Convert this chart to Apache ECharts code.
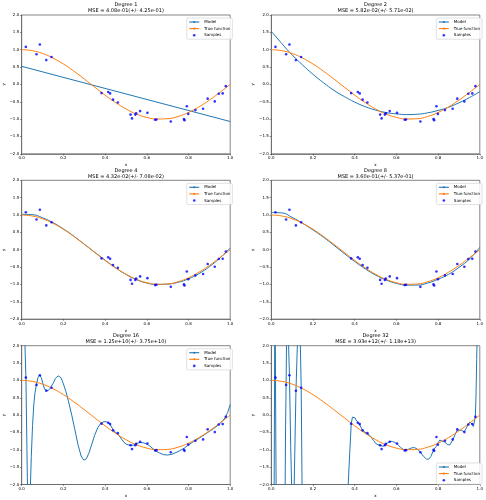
<!DOCTYPE html>
<html><head><meta charset="utf-8">
<script src="https://cdn.jsdelivr.net/npm/echarts/dist/echarts.min.js"></script>
<style>html,body{margin:0;padding:0;background:#fff}#c{width:486px;height:500px}</style>
</head><body><div id="c"></div>
<script>
// ---- data ----
const degrees = [1, 2, 4, 8, 16, 32];
const mseLabels = [
  'MSE = 4.08e-01(+/- 4.25e-01)',
  'MSE = 5.82e-02(+/- 5.71e-02)',
  'MSE = 4.32e-02(+/- 7.08e-02)',
  'MSE = 3.60e-01(+/- 5.37e-01)',
  'MSE = 1.25e+10(+/- 3.75e+10)',
  'MSE = 3.93e+12(+/- 1.18e+13)'
];
const legendNames = ['Model', 'True function', 'Samples'];

const sampleX = [0.020, 0.071, 0.087, 0.118, 0.143, 0.383, 0.415, 0.424, 0.438, 0.461,
  0.522, 0.529, 0.545, 0.549, 0.568, 0.603, 0.640, 0.646, 0.715, 0.778,
  0.781, 0.792, 0.799, 0.833, 0.870, 0.892, 0.926, 0.945, 0.964, 0.979];
const sampleY = [1.08, 0.87, 1.15, 0.70, 0.79, -0.25, -0.22, -0.26, -0.44, -0.52,
  -0.87, -0.98, -0.87, -0.83, -0.77, -0.82, -1.02, -1.01, -1.07, -1.00,
  -1.03, -0.63, -0.85, -0.74, -0.70, -0.41, -0.49, -0.27, -0.26, -0.05];

const gridX = [0, 0.05, 0.10, 0.15, 0.20, 0.25, 0.30, 0.35, 0.40, 0.45, 0.50,
  0.55, 0.60, 0.65, 0.70, 0.75, 0.80, 0.85, 0.90, 0.95, 1.00];
const trueY = [1.000, 0.972, 0.891, 0.760, 0.588, 0.383, 0.156, -0.078, -0.309, -0.522, -0.707,
  -0.853, -0.951, -0.997, -0.988, -0.924, -0.809, -0.649, -0.454, -0.233, 0.000];

const model1X = [0, 1];
const model1Y = [0.52, -1.07];
const model2Y = [1.53, 1.18, 0.85, 0.56, 0.29, 0.05, -0.17, -0.35, -0.51, -0.64, -0.74,
  -0.81, -0.85, -0.87, -0.86, -0.82, -0.75, -0.66, -0.53, -0.38, -0.21];
const model4Y = [1.02, 1.01, 0.92, 0.78, 0.60, 0.39, 0.16, -0.07, -0.30, -0.52, -0.71,
  -0.86, -0.96, -1.00, -0.99, -0.94, -0.84, -0.69, -0.49, -0.24, 0.05];
const model8Y = [1.07, 1.06, 0.93, 0.76, 0.57, 0.36, 0.13, -0.11, -0.34, -0.55, -0.73,
  -0.87, -0.97, -1.02, -1.02, -0.96, -0.85, -0.71, -0.51, -0.27, 0.07];

const model16X = [0.000, 0.010, 0.0202, 0.027, 0.031, 0.036, 0.041, 0.046, 0.052, 0.058, 0.064, 0.071,
  0.078, 0.086, 0.094, 0.102, 0.110, 0.118, 0.126, 0.135, 0.143, 0.152, 0.162, 0.175, 0.188,
  0.200, 0.212, 0.225, 0.240, 0.255, 0.270, 0.285, 0.298, 0.310, 0.322, 0.335, 0.350, 0.365,
  0.380, 0.395, 0.405, 0.415, 0.425, 0.438, 0.450, 0.461, 0.475, 0.490, 0.505, 0.522, 0.540,
  0.555, 0.568, 0.585, 0.603, 0.620, 0.640, 0.660, 0.680, 0.700, 0.720, 0.740, 0.760, 0.780,
  0.800, 0.820, 0.840, 0.860, 0.880, 0.900, 0.920, 0.940, 0.960, 0.975, 0.988, 1.000];
const model16Y = [6.0, 3.2, 1.08, -1.8, -2.6, -2.8, -2.2, -1.2, -0.3, 0.3, 0.65, 0.90,
  1.08, 1.15, 1.08, 0.90, 0.74, 0.69, 0.70, 0.76, 0.80, 0.93, 1.06, 1.13, 1.08,
  0.90, 0.68, 0.38, 0.00, -0.42, -0.85, -1.18, -1.30, -1.26, -1.10, -0.86, -0.58, -0.36,
  -0.23, -0.19, -0.19, -0.22, -0.28, -0.42, -0.50, -0.55, -0.66, -0.78, -0.85, -0.87, -0.86,
  -0.81, -0.79, -0.80, -0.84, -0.92, -1.02, -1.09, -1.14, -1.15, -1.13, -1.08, -1.02, -0.95,
  -0.86, -0.78, -0.71, -0.63, -0.55, -0.47, -0.39, -0.30, -0.19, -0.08, 0.08, 0.30];

const model32X = [0.000, 0.010, 0.0135, 0.0165, 0.018, 0.0192, 0.0202, 0.0215, 0.0235, 0.030, 0.045,
  0.060, 0.066, 0.0685, 0.071, 0.0735, 0.077, 0.081, 0.0871, 0.093, 0.099, 0.104, 0.1085,
  0.1183, 0.127, 0.133, 0.138, 0.1434, 0.148, 0.160, 0.250, 0.350, 0.362, 0.369, 0.376,
  0.3834, 0.389, 0.395, 0.402, 0.409, 0.4147, 0.419, 0.4237, 0.430, 0.4376, 0.449, 0.4615,
  0.475, 0.490, 0.505, 0.5218, 0.5289, 0.537, 0.5449, 0.5488, 0.558, 0.568, 0.580, 0.5928,
  0.6028, 0.620, 0.6399, 0.6459, 0.660, 0.675, 0.688, 0.700, 0.7152, 0.730, 0.745, 0.755,
  0.765, 0.7782, 0.7805, 0.7917, 0.7992, 0.808, 0.817, 0.8326, 0.845, 0.856, 0.870, 0.880,
  0.8918, 0.900, 0.912, 0.9256, 0.935, 0.9447, 0.952, 0.958, 0.9637, 0.969, 0.973, 0.9786,
  0.982, 0.985, 0.988, 0.995, 1.000];
const model32Y = [-8, -4, -2.4, 2.4, 3.2, 2.3, 1.08, -0.6, -2.4, -6, -9,
  -5, -2.4, -0.3, 0.87, 2.4, 3.5, 2.4, 1.15, -0.9, -2.4, -3, -2.4,
  0.70, 2.4, 3.2, 2.4, 0.79, -2.4, -8, -20, -8, -4, -2.0, -1.1,
  -0.25, -0.06, -0.02, -0.08, -0.17, -0.22, -0.22, -0.26, -0.35, -0.44, -0.49, -0.53,
  -0.60, -0.73, -0.84, -0.87, -0.92, -0.90, -0.87, -0.84, -0.79, -0.76, -0.76, -0.79,
  -0.83, -0.93, -1.02, -1.02, -0.98, -0.94, -0.94, -0.98, -1.07, -1.19, -1.27, -1.27,
  -1.20, -1.00, -1.00, -0.90, -0.80, -0.72, -0.70, -0.78, -0.85, -0.86, -0.72, -0.58,
  -0.43, -0.40, -0.44, -0.48, -0.38, -0.27, -0.20, -0.21, -0.26, -0.33, -0.30, -0.05,
  0.6, 1.6, 2.5, 6, 12];

const xTickInterval = 0.2;
const yTickInterval = 0.5;

// ---- build ----
const zip = (xs, ys) => xs.map((x, i) => [x, ys[i]]);
const modelData = [
  zip(model1X, model1Y),
  zip(gridX, model2Y),
  zip(gridX, model4Y),
  zip(gridX, model8Y),
  zip(model16X, model16Y),
  zip(model32X, model32Y)
];
const trueData = zip(gridX, trueY);
const sampleData = zip(sampleX, sampleY);

const colLeft = [21.7, 271.3];
const colWidth = 208.5;
const rowTop = [15, 180.3, 345.7];
const rowHeight = 138.8;
const FONT = 'DejaVu Sans';

const grids = [], xAxes = [], yAxes = [], series = [], titles = [], legends = [];
degrees.forEach((d, i) => {
  const c = i % 2, r = Math.floor(i / 2);
  const left = colLeft[c], top = rowTop[r];
  grids.push({left: left, top: top, width: colWidth, height: rowHeight,
    show: true, borderColor: '#666', borderWidth: 0.8, backgroundColor: 'transparent'});
  xAxes.push({type: 'value', gridIndex: i, min: 0, max: 1, interval: xTickInterval,
    name: 'x', nameLocation: 'middle', nameGap: 9.5,
    nameTextStyle: {fontSize: 4, color: '#000', fontFamily: FONT},
    axisLine: {show: true, onZero: false, lineStyle: {color: '#666', width: 0.8}},
    axisTick: {show: true, length: 1.7, lineStyle: {color: '#333', width: 0.5}},
    axisLabel: {fontSize: 4, color: '#000', margin: 2.5, fontFamily: FONT,
      formatter: v => (v < 0 ? '\u2212' : '') + Math.abs(v).toFixed(1)},
    splitLine: {show: false}});
  yAxes.push({type: 'value', gridIndex: i, min: -2, max: 2, interval: yTickInterval,
    name: 'y', nameLocation: 'middle', nameGap: 16,
    nameTextStyle: {fontSize: 4, color: '#000', fontFamily: FONT},
    axisLine: {show: true, onZero: false, lineStyle: {color: '#666', width: 0.8}},
    axisTick: {show: true, length: 1.7, lineStyle: {color: '#333', width: 0.5}},
    axisLabel: {fontSize: 4, color: '#000', margin: 2.5, fontFamily: FONT,
      formatter: v => (v < 0 ? '\u2212' : '') + Math.abs(v).toFixed(1)},
    splitLine: {show: false}});
  titles.push({text: 'Degree ' + d, subtext: mseLabels[i],
    left: left + colWidth / 2, top: top - 13, textAlign: 'center', padding: 0, itemGap: 0,
    textStyle: {fontSize: 5, fontWeight: 'normal', color: '#000', lineHeight: 6, fontFamily: FONT},
    subtextStyle: {fontSize: 5, color: '#000', lineHeight: 6, fontFamily: FONT}});
  const legTop = (i === 5) ? top + rowHeight - 21.5 : top + 3;
  legends.push({data: legendNames, orient: 'vertical', left: left + colWidth - 43.5, top: legTop,
    itemWidth: 10, itemHeight: 2.6, itemGap: 1.6, itemTextGap: 2.5,
    lineStyle: {width: 1.1},
    padding: [1.5, 2], backgroundColor: 'rgba(255,255,255,0.85)', borderColor: '#ccc',
    borderWidth: 0.6, borderRadius: 1.5, selectedMode: false,
    textStyle: {fontSize: 4, color: '#000', lineHeight: 5, fontFamily: FONT}});
  series.push({name: 'Model', type: 'line', xAxisIndex: i, yAxisIndex: i,
    data: modelData[i], showSymbol: false, symbol: 'none', clip: true,
    smooth: (i >= 1 && i <= 3) ? true : false,
    lineStyle: {color: '#1f77b4', width: 1}, itemStyle: {color: '#1f77b4'}, z: 2});
  series.push({name: 'True function', type: 'line', xAxisIndex: i, yAxisIndex: i,
    data: trueData, showSymbol: false, symbol: 'none', clip: true, smooth: true,
    lineStyle: {color: '#ff7f0e', width: 1}, itemStyle: {color: '#ff7f0e'}, z: 3});
  series.push({name: 'Samples', type: 'scatter', xAxisIndex: i, yAxisIndex: i,
    data: sampleData, symbol: 'circle', symbolSize: 2.6,
    itemStyle: {color: '#0000ff'}, z: 4});
});

const chart = echarts.init(document.getElementById('c'), null, {renderer: 'canvas'});
chart.setOption({
  animation: false,
  backgroundColor: '#fff',
  textStyle: {fontFamily: FONT},
  title: titles,
  legend: legends,
  grid: grids,
  xAxis: xAxes,
  yAxis: yAxes,
  series: series
});
</script></body></html>
